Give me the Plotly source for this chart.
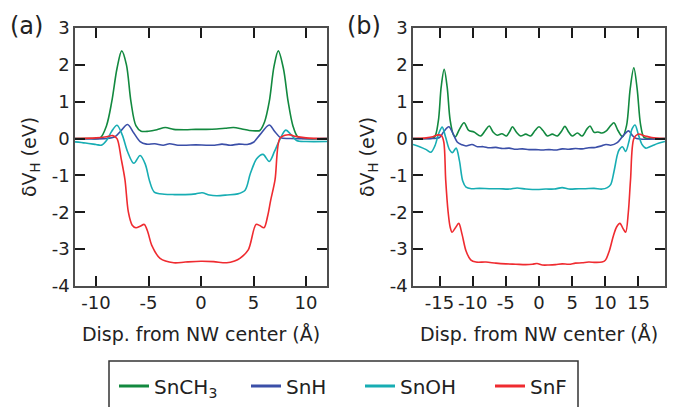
import plotly.graph_objects as go

W, H = 674, 407

# ---------------- data ----------------
series_names = ["SnCH<sub>3</sub>", "SnH", "SnOH", "SnF"]
series_colors = ["#12893f", "#3b4fa8", "#17adb3", "#ef2b30"]

# Panel (a)
a_green_x = [-12, -10.5, -9.6, -9.0, -8.5, -8.0, -7.55, -7.1, -6.67, -6.2, -5.7, -5.0, -4.2, -3.4, -2.6, -1.5,
             -0.5, 0.5, 1.5, 2.3, 3.1, 3.9, 4.6, 5.3, 5.6, 6.05, 6.5, 6.95, 7.36, 7.85, 8.3, 8.75, 9.2, 9.8, 12]
a_green_y = [0.0, 0.0, 0.02, 0.35, 1.0, 1.9, 2.38, 2.0, 1.0, 0.35, 0.2, 0.2, 0.24, 0.3, 0.25, 0.24,
             0.25, 0.25, 0.26, 0.28, 0.3, 0.26, 0.22, 0.21, 0.22, 0.45, 1.0, 1.95, 2.38, 1.9, 1.0, 0.35, 0.05, 0.0, 0.0]

a_blue_x = [-12, -9, -8.2, -7.6, -7.0, -6.4, -5.8, -5.2, -4.4, -3.6, -3.0, -2.2, -1.4, -0.5, 0.5, 1.3, 2.0, 2.8,
            3.6, 4.4, 5.0, 5.6, 6.5, 7.0, 7.6, 8.5, 12]
a_blue_y = [0.0, 0.0, 0.05, 0.22, 0.38, 0.15, -0.08, -0.15, -0.14, -0.18, -0.14, -0.18, -0.18, -0.17, -0.18, -0.18,
            -0.15, -0.18, -0.15, -0.16, -0.1, 0.1, 0.37, 0.2, 0.02, 0.0, 0.0]

a_cyan_x = [-12, -11, -10, -9.5, -9.0, -8.5, -8.0, -7.5, -7.0, -6.4, -5.8, -5.3, -4.9, -4.45, -3.5, -2.5, -1.5,
            -0.5, 0.1, 0.8, 1.5, 2.5, 3.5, 4.2, 4.7, 5.3, 5.9, 6.5, 7.0, 7.55, 8.07, 8.6, 9.1, 10, 12]
a_cyan_y = [-0.09, -0.12, -0.16, -0.18, -0.05, 0.2, 0.36, 0.1, -0.35, -0.67, -0.46, -0.7, -1.15, -1.45, -1.51, -1.52,
            -1.52, -1.5, -1.47, -1.53, -1.55, -1.53, -1.5, -1.4, -0.95, -0.55, -0.43, -0.62, -0.35, 0.0, 0.23, 0.1,
            -0.05, -0.08, -0.08]

a_red_x = [-12, -10, -9, -8.4, -8.0, -7.6, -7.24, -6.92, -6.55, -6.2, -5.8, -5.4, -5.05, -4.7, -3.9, -2.6, -1.5,
           0, 1.2, 2.45, 3.2, 3.7, 4.5, 5.24, 5.6, 6.0, 6.35, 6.64, 7.05, 7.5, 8.0, 8.5, 9.0, 10, 12]
a_red_y = [0.0, 0.02, 0.05, 0.08, 0.0, -0.55, -1.12, -1.99, -2.35, -2.42, -2.38, -2.33, -2.55, -2.89, -3.25, -3.37,
           -3.35, -3.33, -3.34, -3.37, -3.32, -3.25, -3.02, -2.33, -2.36, -2.42, -2.1, -1.67, -1.12, 0.0, 0.09, 0.1,
           0.06, 0.02, 0.0]

# Panel (b)
b_green_x = [-19, -17, -15.8, -15.2, -14.75, -14.3, -13.85, -13.4, -12.9, -12.6, -12.0, -11.3, -10.6, -9.8, -8.8,
             -8.1, -7.5, -6.9, -6.3, -5.6, -4.9, -4.4, -4.0, -3.4, -2.77, -2.0, -1.26, -0.6, 0.0, 0.6, 1.26, 2.0,
             2.77, 3.4, 3.9, 4.5, 5.0, 5.8, 6.5, 7.2, 7.7, 8.3, 8.9, 9.5, 10.1, 10.8, 11.3, 11.9, 12.6, 13.2,
             13.75, 14.3, 14.8, 15.3, 15.8, 16.5, 19]
b_green_y = [0.0, 0.0, 0.03, 0.45, 1.4, 1.88, 1.4, 0.5, 0.1, 0.05, 0.25, 0.43, 0.22, 0.18, 0.07,
             0.22, 0.34, 0.17, 0.09, 0.13, 0.07, 0.2, 0.32, 0.17, 0.07, 0.12, 0.07, 0.22, 0.32, 0.22, 0.07, 0.12,
             0.07, 0.2, 0.33, 0.17, 0.07, 0.15, 0.07, 0.25, 0.34, 0.17, 0.18, 0.15, 0.2, 0.35, 0.43, 0.22, 0.05, 0.35,
             1.35, 1.92, 1.35, 0.4, 0.04, 0.0, 0.0]

b_blue_x = [-19, -16, -15, -14.4, -13.6, -13.0, -12.3, -11.6, -11.0, -10.1, -9.3, -8.4, -7.5, -6.5, -5.5, -4.5,
            -3.5, -2.5, -1.5, -0.5, 0.5, 1.5, 2.5, 3.5, 4.5, 5.5, 6.5, 7.5, 8.5, 9.4, 10.1, 10.8, 11.8, 12.7,
            13.5, 14.1, 14.7, 19]
b_blue_y = [0.0, 0.0, 0.03, 0.18, 0.32, 0.15, -0.1, -0.17, -0.2, -0.16, -0.22, -0.22, -0.25, -0.24, -0.27, -0.26,
            -0.29, -0.28, -0.3, -0.3, -0.31, -0.3, -0.31, -0.28, -0.29, -0.27, -0.28, -0.25, -0.24, -0.2, -0.16,
            -0.18, -0.11, 0.08, 0.21, 0.08, 0.0, 0.0]

b_cyan_x = [-19, -18, -17, -16.3, -15.7, -15.1, -14.6, -14.1, -13.5, -13.05, -12.5, -12.0, -11.5, -11.0, -10.2,
            -9, -7.5, -6, -4.5, -3.3, -2, -1, 0, 1, 2.3, 3.5, 4.5, 6, 7, 8.3, 9.5, 10.3, 10.8, 11.3, 11.8, 12.07,
            12.57, 13.07, 13.6, 14.0, 14.48, 15.0, 15.5, 16.1, 17, 18, 19]
b_cyan_y = [-0.16, -0.22, -0.3, -0.37, -0.2, 0.15, 0.31, 0.05, -0.3, -0.38, -0.26, -0.6, -1.15, -1.32, -1.36,
            -1.35, -1.36, -1.36, -1.37, -1.34, -1.37, -1.38, -1.38, -1.37, -1.37, -1.33, -1.37, -1.36, -1.36, -1.35,
            -1.37, -1.33, -1.25, -0.9, -0.45, -0.31, -0.22, -0.35, -0.05, 0.25, 0.37, 0.1, -0.15, -0.26, -0.2,
            -0.13, -0.08]

b_red_x = [-19, -17, -16, -15.2, -14.7, -14.35, -14.07, -13.7, -13.4, -13.1, -12.6, -12.1, -11.6, -11.0, -10.3,
           -9.5, -8, -6.5, -5, -3.5, -2, -1, -0.3, 0.5, 1.5, 2.5, 3.5, 4.5, 5.5, 6.5, 7.5, 8.5, 9.5, 10.0, 10.6,
           11.2, 11.7, 12.2, 12.7, 13.07, 13.47, 13.8, 14.3, 14.9, 16, 17, 19]
b_red_y = [0.0, 0.02, 0.05, 0.1, 0.08, -0.1, -1.12, -2.0, -2.4, -2.54, -2.42, -2.3, -2.6, -3.05, -3.29,
           -3.35, -3.35, -3.38, -3.4, -3.41, -3.42, -3.41, -3.39, -3.43, -3.43, -3.42, -3.4, -3.41, -3.38, -3.37,
           -3.35, -3.36, -3.35, -3.3, -3.05, -2.65, -2.4, -2.3, -2.45, -2.54, -2.0, -1.12, 0.0, 0.12, 0.07,
           0.03, 0.0]

y_ticks = [-4, -3, -2, -1, 0, 1, 2, 3]
y_ticktext = ["-4", "-3", "-2", "-1", "0", "1", "2", "3"]
a_xticks = [-10, -5, 0, 5, 10]
a_xticktext = ["-10", "-5", "0", "5", "10"]
b_xticks = [-15, -10, -5, 0, 5, 10, 15]
b_xticktext = ["-15", "-10", "-5", "0", "5", "10", "15"]

x_title = "Disp. from NW center (Å)"
y_title = "δV<sub>H</sub> (eV)"

# ---------------- figure ----------------
FONT = "DejaVu Sans"
fig = go.Figure()

panel_a = [(a_green_x, a_green_y), (a_blue_x, a_blue_y), (a_cyan_x, a_cyan_y), (a_red_x, a_red_y)]
panel_b = [(b_green_x, b_green_y), (b_blue_x, b_blue_y), (b_cyan_x, b_cyan_y), (b_red_x, b_red_y)]

for (xs, ys), c in zip(panel_a, series_colors):
    fig.add_trace(go.Scatter(x=xs, y=ys, mode="lines", line=dict(color=c, width=1.6, shape="spline", smoothing=0.9),
                             showlegend=False, xaxis="x", yaxis="y", hoverinfo="skip"))
for (xs, ys), c in zip(panel_b, series_colors):
    fig.add_trace(go.Scatter(x=xs, y=ys, mode="lines", line=dict(color=c, width=1.6, shape="spline", smoothing=0.9),
                             showlegend=False, xaxis="x2", yaxis="y2", hoverinfo="skip"))

legend_ids = ["legend", "legend2", "legend3", "legend4"]
legend_line_start = [119, 251, 365, 495]
for name, c, lid in zip(series_names, series_colors, legend_ids):
    fig.add_trace(go.Scatter(x=[None], y=[None], mode="lines", line=dict(color=c, width=3), name=name,
                             legend=lid, showlegend=True, xaxis="x", yaxis="y"))

axis_common = dict(showline=True, linecolor="#4d4d4d", linewidth=1.5, mirror="ticks", ticks="inside",
                   ticklen=10, tickwidth=2, tickcolor="#1a1a1a", showgrid=False, zeroline=False,
                   tickfont=dict(family=FONT, size=18, color="#222222"), automargin=False)

def dx(px):
    return px / W

def dy(py):
    return 1 - py / H

title_font = dict(family=FONT, size=19, color="#222222")

fig.update_layout(
    width=W, height=H,
    margin=dict(l=0, r=0, t=0, b=0, autoexpand=False),
    paper_bgcolor="white", plot_bgcolor="white",
    font=dict(family=FONT, color="#222222"),
    xaxis=dict(domain=[dx(75), dx(327)], range=[-12, 12], tickvals=a_xticks, ticktext=a_xticktext,
               anchor="y", title=dict(text=x_title, font=title_font, standoff=15), **axis_common),
    yaxis=dict(domain=[dy(286), dy(28)], range=[-4, 3], tickvals=y_ticks, ticktext=y_ticktext,
               anchor="x", title=dict(text=y_title, font=title_font, standoff=10), **axis_common),
    xaxis2=dict(domain=[dx(413), dx(665)], range=[-19, 19], tickvals=b_xticks, ticktext=b_xticktext,
                anchor="y2", title=dict(text=x_title, font=title_font, standoff=15), **axis_common),
    yaxis2=dict(domain=[dy(286), dy(28)], range=[-4, 3], tickvals=y_ticks, ticktext=y_ticktext,
                anchor="x2", title=dict(text=y_title, font=title_font, standoff=10), **axis_common),
    annotations=[
        dict(text="(a)", x=dx(26), y=dy(26), xref="paper", yref="paper", showarrow=False,
             xanchor="center", yanchor="middle", font=dict(family=FONT, size=24, color="#222222")),
        dict(text="(b)", x=dx(364), y=dy(26), xref="paper", yref="paper", showarrow=False,
             xanchor="center", yanchor="middle", font=dict(family=FONT, size=24, color="#222222")),
    ],
    shapes=[dict(type="rect", xref="paper", yref="paper", x0=dx(109), x1=dx(578), y0=dy(361), y1=dy(420),
                 line=dict(color="#333333", width=1.5), fillcolor="rgba(0,0,0,0)")],
)

for lid, start in zip(legend_ids, legend_line_start):
    fig.update_layout({lid: dict(x=dx(start - 5), xanchor="left", y=dy(386), yanchor="middle",
                                 orientation="h", bgcolor="rgba(0,0,0,0)", borderwidth=0,
                                 font=dict(family=FONT, size=20, color="#222222"))})

fig.write_html("out.html", config={"displayModeBar": False},
               post_script="document.body.style.margin='0';document.body.style.overflow='hidden';")
